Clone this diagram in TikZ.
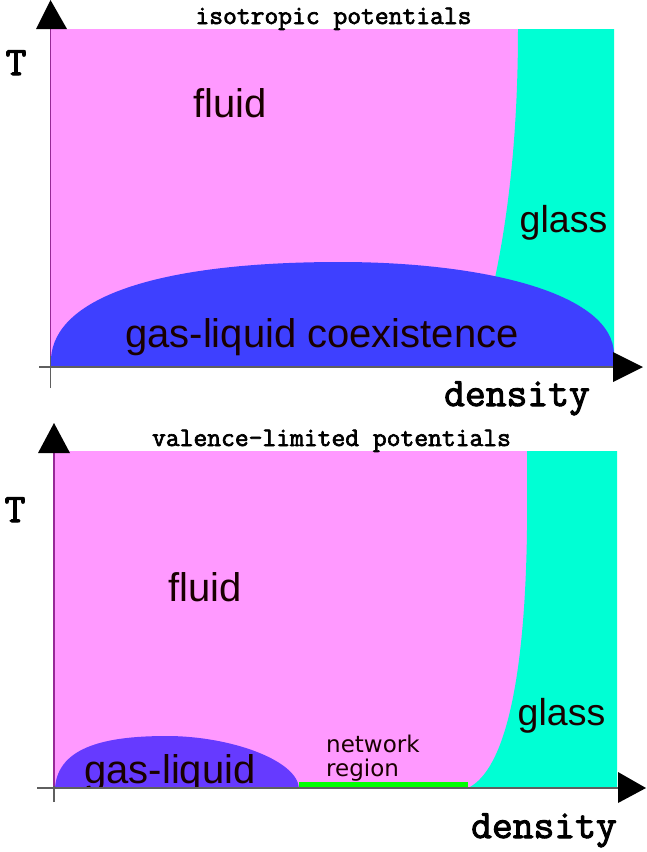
\documentclass[tikz,border=0pt]{standalone}
\usepackage{fontspec}
\setmainfont{Liberation Sans}
\newfontfamily\netfont{DejaVu Sans}
\newfontfamily\courb{Latin Modern Mono}[FakeBold=2.5]
\definecolor{pinkc}{RGB}{255,153,255}
\definecolor{cyanc}{RGB}{0,255,212}
\definecolor{bluec}{RGB}{62,64,255}
\definecolor{purplec}{RGB}{102,58,255}
\definecolor{greenc}{RGB}{0,255,0}
\definecolor{axisc}{RGB}{95,95,95}
\definecolor{edgec}{RGB}{150,40,150}
\definecolor{txtc}{RGB}{25,0,0}
\begin{document}
\begin{tikzpicture}[x=1pt,y=-1pt,
  axisline/.style={draw=axisc,line width=1.5pt},
  edgeline/.style={draw=edgec,line width=1.5pt},
  arrowhead/.style={fill=black},
  biglbl/.style={inner sep=0pt,anchor=base,text=txtc,font=\fontsize{40}{48}\selectfont},
  glasslbl/.style={inner sep=0pt,anchor=base,text=txtc,font=\fontsize{37.5}{45}\selectfont},
  netlbl/.style={inner sep=0pt,anchor=base west,text=txtc,font=\netfont\fontsize{23}{27}\selectfont},
  titlelbl/.style={inner sep=0pt,anchor=base,text=black,font=\courb\fontsize{26.8}{32}\selectfont},
  axislbl/.style={inner sep=0pt,anchor=base,text=black,font=\courb\fontsize{40.4}{48}\selectfont}]
\useasboundingbox (0,0) rectangle (646,852);
\fill[white] (0,0) rectangle (646,852);

% ================= top panel =================
\fill[pinkc] (51,29) rectangle (614,367);
\fill[cyanc] (518,29) .. controls (518,150) and (505,230) .. (495,278)
   -- (480,367) -- (614,367) -- (614,29) -- cycle;
\fill[bluec] (51,367) -- (51,358) .. controls (55,300) and (150,262) .. (340,262)
   .. controls (480,262) and (614,292) .. (614,355) -- (614,367) -- cycle;

\coordinate (tya) at (50.5,388);
\coordinate (tyb) at (50.5,29);
\coordinate (tyc) at (50.5,356);
\coordinate (txa) at (39,367);
\coordinate (txb) at (613,367);
\draw[axisline] (tya) -- (tyb);
\draw[edgeline] (tyb) -- (tyc);
\draw[axisline] (txa) -- (txb);
\fill[arrowhead] (36,29) -- (50.5,0) -- (67,29) -- cycle;
\fill[arrowhead] (613,352) -- (643,367) -- (613,382) -- cycle;

\node[titlelbl] (ttitle) at (333.5,24) {isotropic potentials};
\node[axislbl] (tT) at (16,75) {T};
\node[axislbl] (tdens) at (517,406) {density};
\node[biglbl] (tfluid) at (230,117) {fluid};
\node[glasslbl] (tglass) at (563.5,232) {glass};
\node[biglbl] (tgl) at (322,347) {gas-liquid coexistence};

% ================= bottom panel =================
\fill[pinkc] (54,451) rectangle (617,788);
\fill[cyanc] (527,451) -- (527,530) .. controls (525,680) and (505,770) .. (468,788)
   -- (617,788) -- (617,451) -- cycle;
\fill[purplec] (55,788) .. controls (58,745) and (110,736) .. (167,736)
   .. controls (230,736) and (297,760) .. (299,788) -- cycle;
\fill[greenc] (299,782) rectangle (468,788);

\begin{scope}
\clip (0,700) rectangle (646,788);
\node[biglbl] (bgl) at (170,783) {gas-liquid};
\end{scope}

\coordinate (bya) at (54,802);
\coordinate (byb) at (54,453);
\coordinate (byc) at (54,786);
\coordinate (bxa) at (37,788);
\coordinate (bxb) at (618,788);
\draw[axisline] (bya) -- (byb);
\draw[edgeline] (byb) -- (byc);
\draw[axisline] (bxa) -- (bxb);
\fill[arrowhead] (38,453) -- (54,423) -- (70,453) -- cycle;
\fill[arrowhead] (618,772) -- (646,788) -- (618,803) -- cycle;

\node[titlelbl] (btitle) at (331.5,446) {valence-limited potentials};
\node[axislbl] (bT) at (15,522) {T};
\node[axislbl] (bdens) at (544,838) {density};
\node[biglbl] (bfluid) at (205,601) {fluid};
\node[glasslbl] (bglass) at (561.5,725) {glass};
\node[netlbl] (bnet) at (326,752) {network};
\node[netlbl] (breg) at (326,776) {region};
\end{tikzpicture}
\end{document}
